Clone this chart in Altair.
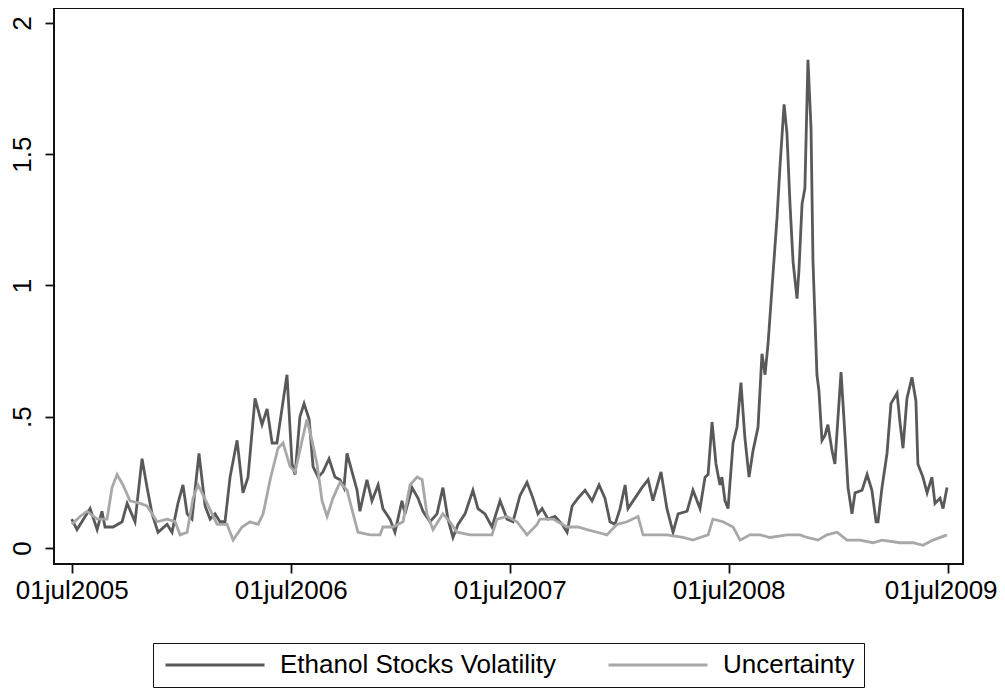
import altair as alt
import pandas as pd

# ---- data (decimal years; 2005.5 = 01jul2005) ----
series_names = ["Ethanol Stocks Volatility", "Uncertainty"]
series_colors = ["#595959", "#a8a8a8"]
x_tick_values = [2005.5, 2006.5, 2007.5, 2008.5, 2009.5]
y_tick_values = [0, 0.5, 1, 1.5, 2]

ethanol_t = [
    2005.500, 2005.524, 2005.584, 2005.616, 2005.638, 2005.652, 2005.689, 2005.730, 2005.753, 2005.789,
    2005.821, 2005.844, 2005.867, 2005.894, 2005.935, 2005.958, 2005.985, 2006.008, 2006.027, 2006.049,
    2006.081, 2006.109, 2006.132, 2006.154, 2006.177, 2006.200, 2006.223, 2006.255, 2006.282, 2006.305,
    2006.337, 2006.369, 2006.392, 2006.415, 2006.437, 2006.460, 2006.483, 2006.506, 2006.520, 2006.542,
    2006.561, 2006.584, 2006.602, 2006.625, 2006.647, 2006.675, 2006.702, 2006.725, 2006.743, 2006.757,
    2006.780, 2006.803, 2006.816, 2006.848, 2006.871, 2006.899, 2006.921, 2006.953, 2006.976, 2007.008,
    2007.022, 2007.054, 2007.081, 2007.104, 2007.136, 2007.168, 2007.195, 2007.218, 2007.241, 2007.264,
    2007.296, 2007.332, 2007.355, 2007.387, 2007.419, 2007.456, 2007.488, 2007.515, 2007.547, 2007.579,
    2007.606, 2007.629, 2007.648, 2007.675, 2007.707, 2007.739, 2007.762, 2007.785, 2007.812, 2007.844,
    2007.876, 2007.908, 2007.935, 2007.958, 2007.981, 2008.004, 2008.027, 2008.040, 2008.072, 2008.104,
    2008.132, 2008.154, 2008.191, 2008.218, 2008.246, 2008.269, 2008.310, 2008.337, 2008.369, 2008.392,
    2008.406, 2008.424, 2008.442, 2008.460, 2008.469, 2008.483, 2008.497, 2008.520, 2008.538, 2008.556,
    2008.574, 2008.593, 2008.611, 2008.634, 2008.652, 2008.666, 2008.680, 2008.702, 2008.721, 2008.734,
    2008.753, 2008.766, 2008.780, 2008.794, 2008.812, 2008.821, 2008.835, 2008.848, 2008.862, 2008.876,
    2008.885, 2008.903, 2008.912, 2008.926, 2008.940, 2008.953, 2008.972, 2008.985, 2009.013, 2009.031,
    2009.045, 2009.063, 2009.077, 2009.109, 2009.132, 2009.154, 2009.173, 2009.182, 2009.200, 2009.223,
    2009.241, 2009.269, 2009.282, 2009.296, 2009.314, 2009.337, 2009.355, 2009.364, 2009.387, 2009.406,
    2009.428, 2009.442, 2009.465, 2009.479, 2009.497,
]
ethanol_v = [
    0.11, 0.07, 0.15, 0.07, 0.14, 0.08, 0.08, 0.10, 0.17, 0.10,
    0.34, 0.23, 0.13, 0.06, 0.09, 0.06, 0.17, 0.24, 0.13, 0.11,
    0.36, 0.16, 0.11, 0.13, 0.10, 0.10, 0.27, 0.41, 0.21, 0.27,
    0.57, 0.47, 0.53, 0.40, 0.40, 0.53, 0.66, 0.32, 0.28, 0.50,
    0.55, 0.49, 0.31, 0.27, 0.29, 0.34, 0.27, 0.26, 0.23, 0.36,
    0.29, 0.22, 0.14, 0.26, 0.18, 0.24, 0.15, 0.11, 0.06, 0.18,
    0.13, 0.23, 0.19, 0.14, 0.10, 0.13, 0.23, 0.11, 0.04, 0.09,
    0.13, 0.22, 0.15, 0.13, 0.08, 0.18, 0.11, 0.10, 0.20, 0.25,
    0.19, 0.13, 0.15, 0.11, 0.12, 0.09, 0.06, 0.16, 0.19, 0.22,
    0.18, 0.24, 0.19, 0.10, 0.09, 0.15, 0.24, 0.15, 0.19, 0.23,
    0.26, 0.18, 0.29, 0.15, 0.06, 0.13, 0.14, 0.22, 0.15, 0.27,
    0.28, 0.48, 0.32, 0.24, 0.27, 0.18, 0.15, 0.40, 0.46, 0.63,
    0.42, 0.27, 0.37, 0.46, 0.74, 0.66, 0.78, 1.04, 1.26, 1.45,
    1.69, 1.58, 1.31, 1.09, 0.95, 1.06, 1.31, 1.37, 1.86, 1.60,
    1.09, 0.66, 0.60, 0.41, 0.43, 0.47, 0.37, 0.32, 0.67, 0.43,
    0.23, 0.13, 0.21, 0.22, 0.28, 0.22, 0.10, 0.10, 0.23, 0.36,
    0.55, 0.59, 0.48, 0.38, 0.57, 0.65, 0.56, 0.32, 0.27, 0.21,
    0.27, 0.17, 0.19, 0.15, 0.23,
]

uncertainty_t = [
    2005.500, 2005.538, 2005.570, 2005.616, 2005.661, 2005.684, 2005.707, 2005.734, 2005.766, 2005.812,
    2005.844, 2005.890, 2005.935, 2005.972, 2005.995, 2006.027, 2006.054, 2006.077, 2006.118, 2006.164,
    2006.209, 2006.237, 2006.278, 2006.314, 2006.351, 2006.374, 2006.406, 2006.442, 2006.465, 2006.497,
    2006.520, 2006.552, 2006.574, 2006.597, 2006.620, 2006.643, 2006.666, 2006.693, 2006.725, 2006.757,
    2006.785, 2006.807, 2006.862, 2006.908, 2006.921, 2006.967, 2007.013, 2007.045, 2007.077, 2007.100,
    2007.122, 2007.150, 2007.195, 2007.227, 2007.259, 2007.319, 2007.378, 2007.419, 2007.442, 2007.488,
    2007.533, 2007.579, 2007.625, 2007.638, 2007.698, 2007.762, 2007.812, 2007.853, 2007.899, 2007.944,
    2007.990, 2008.036, 2008.086, 2008.109, 2008.154, 2008.218, 2008.291, 2008.337, 2008.369, 2008.406,
    2008.428, 2008.474, 2008.520, 2008.552, 2008.597, 2008.643, 2008.689, 2008.766, 2008.826, 2008.858,
    2008.908, 2008.949, 2008.995, 2009.040, 2009.100, 2009.159, 2009.200, 2009.282, 2009.342, 2009.387,
    2009.433, 2009.497,
]
uncertainty_v = [
    0.09, 0.12, 0.14, 0.11, 0.11, 0.23, 0.28, 0.24, 0.18, 0.17,
    0.16, 0.10, 0.11, 0.10, 0.05, 0.06, 0.19, 0.24, 0.17, 0.09,
    0.09, 0.03, 0.08, 0.10, 0.09, 0.13, 0.26, 0.38, 0.40, 0.31,
    0.29, 0.41, 0.49, 0.41, 0.32, 0.18, 0.12, 0.19, 0.25, 0.22,
    0.13, 0.06, 0.05, 0.05, 0.08, 0.08, 0.10, 0.24, 0.27, 0.26,
    0.13, 0.07, 0.13, 0.10, 0.06, 0.05, 0.05, 0.05, 0.11, 0.12,
    0.10, 0.05, 0.09, 0.11, 0.11, 0.08, 0.08, 0.07, 0.06, 0.05,
    0.09, 0.10, 0.12, 0.05, 0.05, 0.05, 0.04, 0.03, 0.04, 0.05,
    0.11, 0.10, 0.08, 0.03, 0.05, 0.05, 0.04, 0.05, 0.05, 0.04,
    0.03, 0.05, 0.06, 0.03, 0.03, 0.02, 0.03, 0.02, 0.02, 0.01,
    0.03, 0.05,
]

df = pd.concat([
    pd.DataFrame({"t": ethanol_t, "v": ethanol_v, "series": series_names[0]}),
    pd.DataFrame({"t": uncertainty_t, "v": uncertainty_v, "series": series_names[1]}),
], ignore_index=True)

FONT = "Liberation Sans"

chart = alt.Chart(df).mark_line(strokeWidth=2.8).encode(
    x=alt.X(
        "t:Q",
        scale=alt.Scale(domain=[2005.419, 2009.570], nice=False, zero=False),
        axis=alt.Axis(
            values=x_tick_values,
            labelExpr="'01jul' + floor(datum.value)",
            title=None, grid=False, domain=False,
            tickSize=9, tickWidth=1.8, tickColor="#111111",
            labelFont=FONT, labelFontSize=26, labelColor="black",
            labelPadding=4, labelFlush=False, labelOverlap=False,
            labelOffset={"condition": {"test": "datum.value > 2009", "value": -7}, "value": 0},
        ),
    ),
    y=alt.Y(
        "v:Q",
        scale=alt.Scale(domain=[-0.061, 2.057], nice=False, zero=False),
        axis=alt.Axis(
            values=y_tick_values,
            labelExpr="datum.value == 0.5 ? '.5' : toString(datum.value)",
            title=None, grid=False, domain=False,
            tickSize=9, tickWidth=1.8, tickColor="#111111",
            labelFont=FONT, labelFontSize=26, labelColor="black",
            labelAngle=-90, labelAlign="center", labelBaseline="alphabetic",
            labelPadding=15, labelFlush=False, labelOverlap=False,
        ),
    ),
    color=alt.Color(
        "series:N",
        scale=alt.Scale(domain=series_names, range=series_colors),
        legend=alt.Legend(
            title=None, orient="none", legendX=99, legendY=635,
            direction="horizontal",
            symbolType="M-4.95,0H4.95", symbolSize=400, symbolOffset=40,
            symbolStrokeWidth=2.8,
            labelFont=FONT, labelFontSize=26, labelColor="black",
            labelLimit=400, labelOffset=52,
            columnPadding=45, padding=9, strokeColor="#111111",
            fillColor="white",
        ),
    ),
).properties(
    width=909,
    height=556,
    autosize=alt.AutoSizeParams(type="none"),
    padding={"left": 46, "top": 0, "right": 34, "bottom": 124},
).configure_view(
    stroke="#111111", strokeWidth=2,
)

chart.save("out.html", embed_options={"renderer": "svg", "actions": False})
